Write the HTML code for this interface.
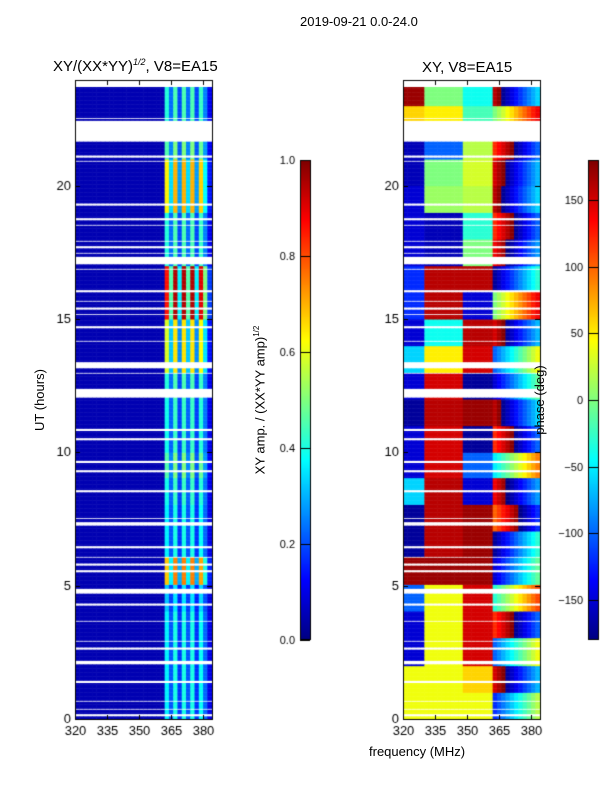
<!DOCTYPE html>
<html><head><meta charset="utf-8">
<style>
body{margin:0;background:#fff;width:600px;height:800px;overflow:hidden;position:relative;font-family:"Liberation Sans","DejaVu Sans",sans-serif;color:#000}
.t{position:absolute;white-space:nowrap}
canvas{position:absolute;left:0;top:0}
</style></head><body>
<canvas id="c" width="600" height="800"></canvas>
<div class="t" style="left:300px;top:14px;font-size:13px">2019-09-21 0.0-24.0</div>
<div class="t" style="left:53px;top:57px;font-size:15px">XY/(XX*YY)<sup style="font-size:9px;font-style:italic">1/2</sup>, V8=EA15</div>
<div class="t" style="left:422px;top:59px;font-size:15px">XY, V8=EA15</div>
<div class="t" style="left:0px;top:392px;width:80px;text-align:center;font-size:13px;transform:rotate(-90deg);transform-origin:40px 8px">UT (hours)</div>
<div class="t" style="left:160px;top:392px;width:200px;text-align:center;font-size:13px;transform:rotate(-90deg);transform-origin:100px 8px">XY amp. / (XX*YY amp)<sup style="font-size:8px">1/2</sup></div>
<div class="t" style="left:490px;top:392px;width:100px;text-align:center;font-size:13px;transform:rotate(-90deg);transform-origin:50px 8px">phase (deg)</div>
<div class="t" style="left:369px;top:744px;font-size:13px">frequency (MHz)</div>
<script>
const hourTicks=[0,5,10,15,20];
const freqTicks=[320,335,350,365,380];
const ampTicks=[0.0,0.2,0.4,0.6,0.8,1.0];
const phaseTicks=[-150,-100,-50,0,50,100,150];
const gaps=[[23.7,24],[22.5,22.57],[22.39,22.46],[21.67,22.39],[21.07,21.15],[20.89,20.96],[19.27,19.35],[18.71,18.79],[18.49,18.56],[17.89,17.96],[17.66,17.74],[17.44,17.51],[17.06,17.36],[16.84,16.91],[16.01,16.12],[15.64,15.71],[15.37,15.45],[15.15,15.22],[14.66,14.74],[14.14,14.21],[13.16,13.39],[12.94,13.01],[12.07,12.41],[10.8,10.91],[10.46,10.54],[9.6,9.71],[9.26,9.34],[8.51,8.59],[7.5,7.57],[7.24,7.39],[6.41,6.49],[6.04,6.11],[5.77,5.85],[5.51,5.59],[4.69,4.91],[4.27,4.35],[3.64,3.71],[2.89,2.96],[2.62,2.7],[2.06,2.21],[1.35,1.46],[0.64,0.71],[0.34,0.41],[0.11,0.19]];
const ampColWeights=[0.9,0.45,1.0,0.35,1.0,0.45,1.0,0.35,0.95,0.5,0.15];
const ampBase=0.05;
const ampRowGain=[0.35,0.35,0.35,0.35,0.3,0.7,0.35,0.35,0.38,0.45,0.38,0.38,0.4,0.6,0.6,0.9,0.9,0.4,0.4,0.65,0.65,0.45,0.4,0.4];
const phaseA=[40,40,-150,-150,-100,170,-170,-170,-60,-150,-150,-170,-150,-60,-150,-120,-120,-150,-150,-150,-160,-160,60,170];
const phaseB=[40,40,40,40,40,170,160,160,160,150,150,160,150,50,-40,160,160,-160,-160,10,0,-100,50,0];
const phaseC=[40,60,150,150,150,170,170,170,-150,-100,-170,170,-170,150,160,-150,160,0,-30,20,30,20,-20,-40];
const phaseD=[-120,150,-100,120,-30,-150,-170,100,140,-50,120,160,-150,-100,150,0,-170,140,120,160,150,120,0,160];

const cv=document.getElementById('c'),ctx=cv.getContext('2d');
const yH=h=>719-h*(640/24);
const xL=f=>75+(f-320)*(137/64.2);
const xR=f=>403+(f-320)*(137/64.2);
function jet(v){v=Math.max(0,Math.min(1,v));
 const c=x=>Math.max(0,Math.min(1,x));
 const r=c(1.5-Math.abs(4*v-3)),g=c(1.5-Math.abs(4*v-2)),b=c(1.5-Math.abs(4*v-1));
 return `rgb(${r*255|0},${g*255|0},${b*255|0})`;}
function inGap(h){return gaps.some(g=>h>=g[0]&&h<g[1]);}
const dh=0.05;
for(let h=0;h<24;h+=dh){
 if(inGap(h+dh/2))continue;
 const hi=Math.min(23,Math.floor(h));
 for(let f=320;f<384;f+=2){
  let v=ampBase;
  if(f>=362){const w=ampColWeights[Math.min(ampColWeights.length-1,(f-362)/2)];v=ampBase+ampRowGain[hi]*w;}
  ctx.fillStyle=jet(v);
  ctx.fillRect(xL(f),yH(h+dh),xL(f+2)-xL(f)+0.5,yH(h)-yH(h+dh)+0.5);
 }
}
function wrap(p){while(p>180)p-=360;while(p<-180)p+=360;return p;}
for(let h=0;h<24;h+=dh){
 if(inGap(h+dh/2))continue;
 const hi=Math.min(23,Math.floor(h));
 for(let f=320;f<384;f+=2){
  let p;
  if(f<330)p=phaseA[hi];else if(f<348)p=phaseB[hi];else if(f<362)p=phaseC[hi];
  else p=wrap(phaseD[hi]+(f-362)*7);
  ctx.fillStyle=jet((p+180)/360);
  ctx.fillRect(xR(f),yH(h+dh),xR(f+2)-xR(f)+0.5,yH(h)-yH(h+dh)+0.5);
 }
}
ctx.strokeStyle='#000';ctx.lineWidth=1;ctx.fillStyle='#000';
ctx.font='13px "Liberation Sans",sans-serif';
[[75,xL],[403,xR]].forEach(([x0,xf])=>{
 ctx.strokeRect(x0+0.5,80.5,137,639);
 ctx.textAlign='right';ctx.textBaseline='middle';
 hourTicks.forEach(t=>{const y=Math.round(yH(t))+0.5;
  ctx.beginPath();ctx.moveTo(x0,y);ctx.lineTo(x0+5,y);ctx.moveTo(x0+137,y);ctx.lineTo(x0+132,y);ctx.stroke();
  ctx.fillText(String(t),x0-4,y);});
 ctx.textAlign='center';ctx.textBaseline='top';
 freqTicks.forEach(t=>{const x=Math.round(xf(t))+0.5;
  ctx.beginPath();ctx.moveTo(x,720);ctx.lineTo(x,715);ctx.moveTo(x,80);ctx.lineTo(x,85);ctx.stroke();
  ctx.fillText(String(t),x,725);});
});
function cbar(x0,vals,lo,hi,fmt){
 for(let y=160;y<640;y++){ctx.fillStyle=jet(1-(y-160)/480);ctx.fillRect(x0,y,10,1);}
 ctx.strokeRect(x0+0.5,160.5,10,479);
 ctx.font='11px "Liberation Sans",sans-serif';ctx.textAlign='right';ctx.textBaseline='middle';ctx.fillStyle='#000';
 vals.forEach(v=>{const y=Math.round(640-(v-lo)/(hi-lo)*480)+0.5;
  ctx.beginPath();ctx.moveTo(x0,y);ctx.lineTo(x0+10,y);ctx.stroke();
  ctx.fillText(fmt(v),x0-5,y);});
}
cbar(300,ampTicks,0,1,v=>v.toFixed(1));
cbar(588,phaseTicks,-180,180,v=>v<0?'\u2212'+Math.abs(v):String(v));
</script>
</body></html>
